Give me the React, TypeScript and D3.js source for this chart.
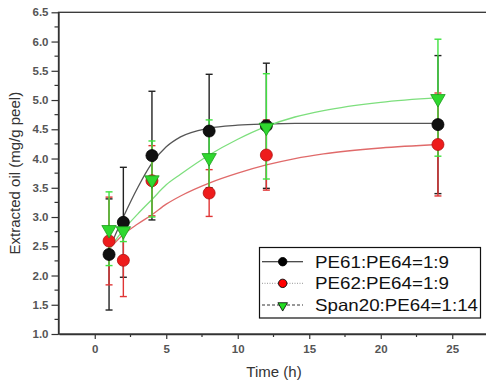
import * as d3 from 'd3';
import { useEffect, useRef } from 'react';

// sampling times (h)
const times = [1, 2, 4, 8, 12, 24];

const pe61 = [2.36, 2.91, 4.05, 4.47, 4.56, 4.58];
const pe61Err = [0.95, 0.94, 1.1, 0.97, 1.07, 1.18];
const pe62 = [2.59, 2.26, 3.62, 3.41, 4.06, 4.24];
const pe62Err = [0.75, 0.62, 0.6, 0.4, 0.6, 0.88];
const span20 = [2.8, 2.78, 3.65, 4.03, 4.55, 5.04];
const span20Err = [0.63, 0.2, 0.65, 0.63, 0.9, 1.0];

// fitted curves, sampled off the figure
const fitT = [1, 2, 3, 4, 5, 6, 8, 10, 12, 14, 16, 20, 24];
const pe61Fit = [2.45, 3.0, 3.5, 3.92, 4.2, 4.37, 4.52, 4.57, 4.59, 4.6, 4.6, 4.6, 4.6];
const pe62Fit = [2.45, 2.7, 2.88, 3.04, 3.22, 3.36, 3.58, 3.75, 3.89, 4.0, 4.08, 4.18, 4.24];
const span20Fit = [2.45, 2.78, 3.05, 3.3, 3.55, 3.73, 4.06, 4.33, 4.55, 4.71, 4.82, 4.96, 5.04];

const legendLabels = ['PE61:PE64=1:9', 'PE62:PE64=1:9', 'Span20:PE64=1:14'];

const xTicks = [0, 5, 10, 15, 20, 25];
const xMinor = [2.5, 7.5, 12.5, 17.5, 22.5];
const yTicks = [1.0, 1.5, 2.0, 2.5, 3.0, 3.5, 4.0, 4.5, 5.0, 5.5, 6.0, 6.5];
const yMinor = [1.25, 1.75, 2.25, 2.75, 3.25, 3.75, 4.25, 4.75, 5.25, 5.75, 6.25];

export default function App() {
  const ref = useRef<SVGSVGElement | null>(null);

  useEffect(() => {
    const svg = d3.select(ref.current);
    svg.selectAll('*').remove();
    const font = 'Arial, "Liberation Sans", Helvetica, sans-serif';

    const x = d3.scaleLinear().domain([-2.5, 27.5]).range([59, 488]);
    const y = d3.scaleLinear().domain([1, 6.5]).range([334, 12.3]);

    // frame (right edge falls just off the picture)
    svg.append('rect')
      .attr('x', 58.5).attr('y', 12.3).attr('width', 430).attr('height', 334 - 12.3)
      .attr('fill', 'none').attr('stroke', '#333').attr('stroke-width', 1.3);

    const gx = svg.append('g').attr('transform', 'translate(0,334)');
    gx.call(d3.axisBottom(x).tickValues(xTicks).tickSize(5).tickSizeOuter(0).tickPadding(6).tickFormat(d3.format('d')));
    gx.append('g').selectAll('line').data(xMinor).enter().append('line')
      .attr('x1', (d) => x(d)).attr('x2', (d) => x(d)).attr('y1', 0).attr('y2', 3);

    const gy = svg.append('g').attr('transform', 'translate(58.5,0)');
    gy.call(d3.axisLeft(y).tickValues(yTicks).tickSize(7).tickSizeOuter(0).tickPadding(3).tickFormat(d3.format('.1f')));
    gy.append('g').selectAll('line').data(yMinor).enter().append('line')
      .attr('y1', (d) => y(d)).attr('y2', (d) => y(d)).attr('x1', 0).attr('x2', -4);

    for (const g of [gx, gy]) {
      g.select('.domain').attr('stroke', '#333').attr('stroke-width', 1.3);
      g.selectAll('line').attr('stroke', '#333').attr('stroke-width', 1.2);
      g.selectAll('text').attr('font-family', font).attr('font-size', 11.5).attr('fill', '#555').attr('font-weight', 'bold');
    }

    svg.append('text')
      .attr('transform', `translate(20,${(12.3 + 334) / 2}) rotate(-90)`)
      .attr('text-anchor', 'middle').attr('font-family', font).attr('font-size', 15).attr('fill', '#333')
      .text('Extracted oil (mg/g peel)');
    svg.append('text')
      .attr('x', 274).attr('y', 377).attr('text-anchor', 'middle')
      .attr('font-family', font).attr('font-size', 15).attr('fill', '#333')
      .text('Time (h)');

    const series = [
      { mean: pe61, err: pe61Err, fit: pe61Fit, line: '#555', bar: '#222', fill: '#111', stroke: '#000', shape: 'circle' },
      { mean: pe62, err: pe62Err, fit: pe62Fit, line: '#e06a6a', bar: '#e03535', fill: '#ee1c1c', stroke: '#b01010', shape: 'circle' },
      { mean: span20, err: span20Err, fit: span20Fit, line: '#7ddf7d', bar: '#3fe23f', fill: '#2fd82f', stroke: '#1a9a1a', shape: 'tri' }
    ];

    const line = d3.line<number>().x((_, i) => x(fitT[i])).y((d) => y(d)).curve(d3.curveMonotoneX);
    series.forEach((s) => {
      svg.append('path').attr('d', line(s.fit)).attr('fill', 'none').attr('stroke', s.line).attr('stroke-width', 1.3);
    });

    const tri = d3.symbol().type(d3.symbolTriangle).size(90);
    series.forEach((s) => {
      const g = svg.append('g');
      s.mean.forEach((m, i) => {
        const cx = x(times[i]);
        const lo = y(m - s.err[i]);
        const hi = y(m + s.err[i]);
        g.append('line').attr('x1', cx).attr('x2', cx).attr('y1', lo).attr('y2', hi).attr('stroke', s.bar).attr('stroke-width', 1.4);
        for (const yy of [lo, hi]) {
          g.append('line').attr('x1', cx - 3.5).attr('x2', cx + 3.5).attr('y1', yy).attr('y2', yy).attr('stroke', s.bar).attr('stroke-width', 1.4);
        }
      });
    });
    series.forEach((s) => {
      const g = svg.append('g');
      s.mean.forEach((m, i) => {
        const cx = x(times[i]);
        const cy = y(m);
        if (s.shape === 'circle') {
          g.append('circle').attr('cx', cx).attr('cy', cy).attr('r', 6).attr('fill', s.fill).attr('stroke', s.stroke).attr('stroke-width', 0.8);
        } else {
          g.append('path').attr('d', tri).attr('transform', `translate(${cx},${cy + 1}) rotate(180)`)
            .attr('fill', s.fill).attr('stroke', s.stroke).attr('stroke-width', 0.8);
        }
      });
    });

    // legend
    const lg = svg.append('g');
    lg.append('rect').attr('x', 259.5).attr('y', 247.5).attr('width', 221).attr('height', 70.5)
      .attr('fill', '#fff').attr('stroke', '#111').attr('stroke-width', 1.2);
    const legendStyles = [
      { stroke: '#111', dash: null as string | null, fill: '#000', shape: 'circle' },
      { stroke: '#aaa', dash: '1,1.5', fill: '#f00', shape: 'circle' },
      { stroke: '#333', dash: '3,2', fill: '#22dd22', shape: 'tri' }
    ];
    const legendWidths = [134, 134, 163];
    const rowY = d3.scalePoint<string>().domain(legendLabels).range([261.7, 305]);
    legendLabels.forEach((label, i) => {
      const cy = rowY(label)!;
      const st = legendStyles[i];
      const l = lg.append('line').attr('x1', 262).attr('x2', 303).attr('y1', cy).attr('y2', cy)
        .attr('stroke', st.stroke).attr('stroke-width', 1.1);
      if (st.dash) l.attr('stroke-dasharray', st.dash);
      if (st.shape === 'circle') {
        lg.append('circle').attr('cx', 282.7).attr('cy', cy).attr('r', 4.2).attr('fill', st.fill).attr('stroke', '#000').attr('stroke-width', 0.9);
      } else {
        lg.append('path').attr('d', d3.symbol().type(d3.symbolTriangle).size(40)()).attr('transform', `translate(282.7,${cy + 0.5}) rotate(180)`)
          .attr('fill', st.fill).attr('stroke', '#000').attr('stroke-width', 0.8);
      }
      lg.append('text').attr('x', 315).attr('y', cy + 6)
        .attr('font-family', font).attr('font-size', 16.5).attr('fill', '#111')
        .attr('textLength', legendWidths[i]).attr('lengthAdjust', 'spacingAndGlyphs')
        .text(label);
    });
  }, []);

  return (
    <svg ref={ref} width={486} height={381} style={{ position: 'absolute', left: 0, top: 0, background: '#fff' }} />
  );
}
